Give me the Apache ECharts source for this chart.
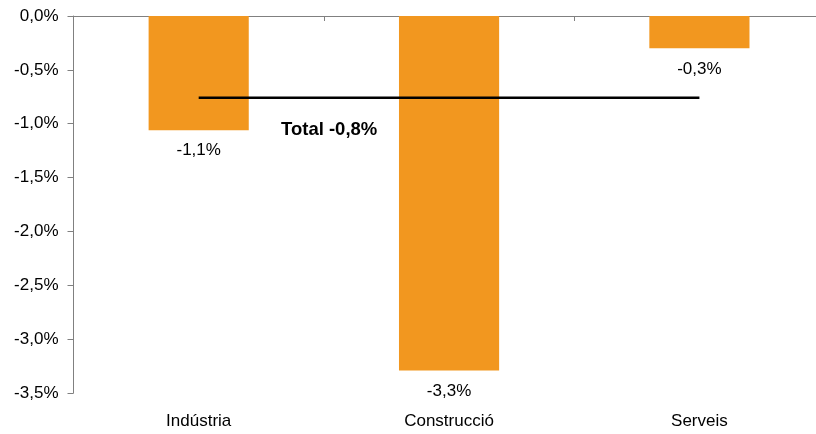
<!DOCTYPE html>
<html><head><meta charset="utf-8">
<script src="https://cdn.jsdelivr.net/npm/echarts@6/dist/echarts.min.js"></script>
<style>html,body{margin:0;padding:0;background:#fff}#c{width:816px;height:434px}</style>
</head><body><div id="c"></div>
<script>
const categories = ['Indústria', 'Construcció', 'Serveis'];
const values = [-1.06, -3.29, -0.30];
const total = -0.76;
const totalLine = [total, total, total];
const yTicks = [0, -0.5, -1, -1.5, -2, -2.5, -3, -3.5];

const fmt = v => (Math.round(v * 10) / 10).toFixed(1).replace('.', ',') + '%';
const font = 'Liberation Sans, Arial, sans-serif';

const chart = echarts.init(document.getElementById('c'));
chart.setOption({
  animation: false,
  grid: { left: 73.5, right: -8.6, top: 16, bottom: 41, containLabel: false, outerBoundsMode: 'none' },
  xAxis: [
    { type: 'category', data: categories, position: 'top',
      axisLine: { onZero: false, lineStyle: { color: '#808080', width: 1 } },
      axisTick: { show: true, inside: true, length: 5, alignWithLabel: false, lineStyle: { color: '#808080' } },
      axisLabel: { show: false } },
    { type: 'category', data: categories, position: 'bottom',
      axisLine: { show: false }, axisTick: { show: false },
      axisLabel: { show: true, margin: 20, fontSize: 17, color: '#000', fontFamily: font } }
  ],
  yAxis: {
    type: 'value', min: -3.5, max: 0, interval: 0.5,
    axisLine: { show: true, lineStyle: { color: '#808080' } },
    axisTick: { show: true, length: 6, lineStyle: { color: '#808080' } },
    splitLine: { show: false },
    axisLabel: { margin: 15, fontSize: 17, color: '#000', fontFamily: font, formatter: v => v.toFixed(1).replace('.', ',') + '%' }
  },
  series: [
    { type: 'bar', data: values, xAxisIndex: 0, barWidth: '40%',
      itemStyle: { color: '#F2971F' },
      label: { show: true, position: 'bottom', distance: 12, fontSize: 17, color: '#000', fontFamily: font, formatter: p => fmt(p.value) } },
    { type: 'line', data: totalLine, xAxisIndex: 0, symbol: 'none',
      lineStyle: { color: '#000', width: 2.5 },
      label: { show: false },
      z: 5 }
  ],
  graphic: [
    { type: 'text', left: 281, top: 120, style: { text: 'Total ' + fmt(total), font: 'bold 18.5px ' + font, fill: '#000' } }
  ]
});
</script></body></html>
